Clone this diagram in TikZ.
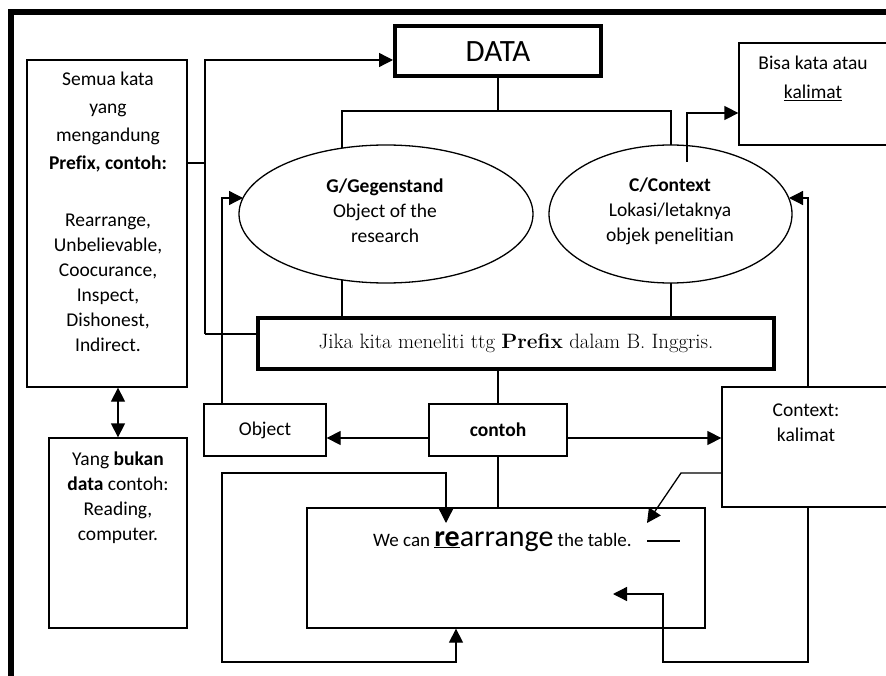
\documentclass[tikz,border=0pt]{standalone}
\usepackage{fontspec}
\newfontfamily\calfont{Carlito}[Ligatures=NoCommon]
\usetikzlibrary{arrows.meta,shapes.geometric}

\tikzset{
  plainbox/.style={draw, line width=1.3pt, rectangle, inner sep=0pt},
  heavybox/.style={draw, line width=4pt, rectangle, inner sep=0pt},
  oval/.style={draw, line width=1.3pt, ellipse, inner sep=0pt},
  txt/.style={align=center, inner sep=0pt, font=\calfont\fontsize{19.5}{25}\selectfont},
  link/.style={line width=1.3pt},
  tip/.tip={Triangle[length=14pt,width=14pt]},
  arrow/.style={link, -tip},
  twoway/.style={link, tip-tip},
}

\begin{document}
\begin{tikzpicture}[x=1pt,y=-1pt]
\useasboundingbox (0,0) rectangle (886,676);
\clip (0,0) rectangle (886,676);
\fill[white] (0,0) rectangle (886,676);

% heavy outer frame
\draw[line width=5.5pt] (11,700) -- (11,12) -- (900,12);

% boxes
\node[heavybox, minimum width=206pt, minimum height=50pt,
      font=\calfont\fontsize{31}{36}\selectfont] (data) at (498,51.5) {DATA};
\node[plainbox, minimum width=160pt, minimum height=327pt] (semua) at (107,223.5) {};
\node[plainbox, minimum width=138pt, minimum height=190pt] (yang) at (118,533) {};
\node[plainbox, minimum width=148pt, minimum height=102pt] (bisa) at (813,94) {};
\node[oval, minimum width=294pt, minimum height=138pt] (gegen) at (386,214) {};
\node[oval, minimum width=243pt, minimum height=138pt] (ctx) at (670.5,214) {};
\node[heavybox, minimum width=516pt, minimum height=51pt,
      font=\rmfamily\fontsize{20.8}{24}\selectfont] (jika) at (516,343.5)
      {Jika kita meneliti ttg \textbf{Prefix} dalam B. Inggris.};
\node[plainbox, minimum width=122pt, minimum height=52pt,
      font=\calfont\fontsize{19.5}{25}\selectfont] (object) at (265,430) {Object};
\node[plainbox, minimum width=138pt, minimum height=52pt,
      font=\calfont\bfseries\fontsize{19.5}{25}\selectfont] (contoh) at (498,430) {contoh};
\node[plainbox, minimum width=168pt, minimum height=120pt] (context) at (806,447) {};
\node[plainbox, minimum width=398pt, minimum height=120pt] (we) at (506,568) {};

% texts
\node[txt, font=\calfont\fontsize{19.5}{28}\selectfont] (semuaA) at (108,122)
  {Semua kata\\yang\\mengandung\\\textbf{Prefix, contoh:}};
\node[txt] (semuaB) at (108,282.5)
  {Rearrange,\\Unbelievable,\\Coocurance,\\Inspect,\\Dishonest,\\Indirect.};
\node[txt] (yangT) at (118,498)
  {Yang \textbf{bukan}\\\textbf{data} contoh:\\Reading,\\computer.};
\node[txt, font=\calfont\fontsize{19.5}{29}\selectfont] (bisaT) at (813,78)
  {Bisa kata atau\\\underline{kalimat}};
\node[txt] (gegenT) at (385,211)
  {\textbf{G/Gegenstand}\\Object of the\\research};
\node[txt] (ctxT) at (670,211)
  {\textbf{C/Context}\\Lokasi/letaknya\\objek penelitian};
\node[txt] (contextT) at (806,423) {Context:\\kalimat};
\node[inner sep=0pt, anchor=base west, font=\calfont\fontsize{19}{24}\selectfont] (weT) at (373,546)
  {We can {\fontsize{30}{34}\selectfont\textbf{\underline{re}}arrange} the table.};

% DATA to the two ovals
\coordinate (fork) at (498,111);
\draw[link] (data.south) -- (fork);
\draw[link] (342,148) -- (342,111) -- (671,111) -- (671,145);
% ovals down to the heavy box
\draw[link] (342,280) -- (jika.north -| 342,0);
\draw[link] (671,283) -- (jika.north -| 671,0);

% word list feeding DATA and the heavy box
\draw[link] (semua.east |- 0,163) -- (205,163);
\draw[arrow] (205,334) -- (205,60) -- (data.west |- 0,60);
\draw[link] (205,334) -- (jika.west |- 0,334);
\draw[twoway] (semua.south -| 118,0) -- (yang.north -| 118,0);

% heavy box to example
\draw[link] (jika.south -| contoh.north) -- (contoh.north);
\draw[link] (contoh.south) -- (contoh.south |- we.north);
\draw[arrow] (contoh.west |- 0,438) -- (object.east |- 0,438);
\draw[arrow] (contoh.east |- 0,438) -- (context.west |- 0,438);

% object back to G oval
\draw[arrow] (object.north -| 222,0) -- (222,198) -- (243,198);
% loop around the sentence box
\draw[twoway] (we.south -| 456,0) -- (456,662) -- (222,662) -- (222,473) -- (446,473) -- (446,523);

% context links
\draw[arrow] (context.north -| 808,0) -- (808,198) -- (789,198);
\draw[arrow] (context.south -| 808,0) -- (808,662) -- (663,662) -- (663,594) -- (613,594);
\draw[arrow] (context.west |- 0,473) -- (681,473) -- (647,523);
\draw[arrow] (687,162) -- (687,113) -- (bisa.west |- 0,113);

% short stroke after the sentence
\coordinate (dashA) at (647,541);
\coordinate (dashB) at (680,541);
\draw[link] (dashA) -- (dashB);
\end{tikzpicture}
\end{document}
